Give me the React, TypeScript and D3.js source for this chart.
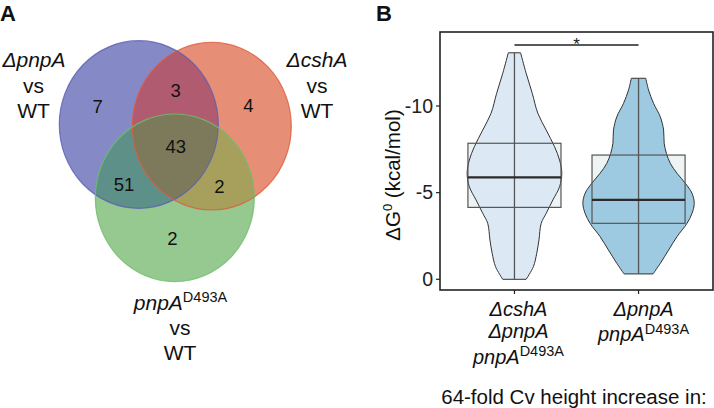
import React from "react";
import * as d3 from "d3";

// ---------- Panel A: Venn data ----------
const vennSetLabels = ["ΔpnpA", "ΔcshA", "pnpA"];
const vennRegions = ["pnpA", "cshA", "pnpA∩cshA", "all", "pnpA∩D493A", "cshA∩D493A", "D493A"];
const vennCounts = [7, 4, 3, 43, 51, 2, 2];

// ---------- Panel B: violin / box data ----------
const categories = ["ΔcshA ΔpnpA pnpA D493A", "ΔpnpA pnpA D493A"];
const yTicks = [0, -5, -10];
const violin1Values = [-13.07, -11.89, -10.73, -9.58, -8.61, -7.65, -6.88, -6.12, -5.34, -4.58, -3.81, -3.23, -2.27, -1.5, -0.73, 0];
const violin1Density = [0.11, 0.21, 0.32, 0.42, 0.57, 0.72, 0.81, 0.85, 0.81, 0.69, 0.57, 0.48, 0.44, 0.4, 0.34, 0.21];
const violin2Values = [-11.6, -10.92, -10.15, -9.38, -8.61, -7.85, -7.27, -6.69, -6.12, -5.54, -4.96, -4.38, -3.81, -3.23, -2.46, -1.69, -0.92, -0.31];
const violin2Density = [0.13, 0.18, 0.27, 0.39, 0.45, 0.46, 0.5, 0.57, 0.69, 0.84, 0.96, 1.0, 0.96, 0.87, 0.69, 0.54, 0.39, 0.26];
const boxLower = [0, -0.31];
const boxQ1 = [-4.15, -3.23];
const boxMedian = [-5.88, -4.58];
const boxQ3 = [-7.85, -7.17];
const boxUpper = [-13.07, -11.6];

const FONT = "'Liberation Sans', Arial, Helvetica, sans-serif";

function Venn() {
  const rx = 79.5, ry = 83.8;
  const blue = { cx: 138.8, cy: 124.5 };
  const red = { cx: 211.8, cy: 126.2 };
  const green = { cx: 174.8, cy: 197.8 };
  const countPos: Record<string, [number, number]> = {
    "pnpA": [97.7, 112.7],
    "cshA": [248.3, 111.7],
    "pnpA∩cshA": [175.7, 97.3],
    "all": [175.7, 152.7],
    "pnpA∩D493A": [124, 190.7],
    "cshA∩D493A": [219.3, 192.7],
    "D493A": [172.3, 245],
  };
  const E = (c: { cx: number; cy: number }, fill: string, extra: any = {}) => (
    <ellipse cx={c.cx} cy={c.cy} rx={rx} ry={ry} fill={fill} {...extra} />
  );
  return (
    <g>
      <defs>
        <clipPath id="clipBlue">{E(blue, "#000")}</clipPath>
        <clipPath id="clipRed">{E(red, "#000")}</clipPath>
      </defs>
      {E(blue, "#8589c6")}
      {E(red, "#e68e76")}
      {E(green, "#95c98f")}
      <g clipPath="url(#clipBlue)">{E(red, "#b05b6f")}</g>
      <g clipPath="url(#clipBlue)">{E(green, "#5e908a")}</g>
      <g clipPath="url(#clipRed)">{E(green, "#a6a05c")}</g>
      <g clipPath="url(#clipBlue)">
        <g clipPath="url(#clipRed)">{E(green, "#7c7a5b")}</g>
      </g>
      {E(blue, "none", { stroke: "#5a5eb4", strokeWidth: 1.2, strokeOpacity: 0.8 })}
      {E(red, "none", { stroke: "#de5a3d", strokeWidth: 1.2, strokeOpacity: 0.8 })}
      {E(green, "none", { stroke: "#6dbd6a", strokeWidth: 1.2, strokeOpacity: 0.8 })}
      {vennRegions.map((r, i) => (
        <text key={r} x={countPos[r][0]} y={countPos[r][1]} textAnchor="middle" fontSize={18.5} fontFamily={FONT} fill="#111">
          {vennCounts[i]}
        </text>
      ))}
      {/* set labels */}
      <g fontFamily={FONT} fontSize={21} fill="#111" textAnchor="middle">
        <text x={34} y={66.7} fontStyle="italic">{vennSetLabels[0]}</text>
        <text x={33.5} y={92.5}>vs</text>
        <text x={33.5} y={118.3}>WT</text>
        <text x={317} y={66.7} fontStyle="italic">{vennSetLabels[1]}</text>
        <text x={317} y={92.5}>vs</text>
        <text x={317} y={118.3}>WT</text>
        <text x={180.5} y={310}>
          <tspan fontStyle="italic">{vennSetLabels[2]}</tspan>
          <tspan fontSize={14.5} dy={-8.5}>D493A</tspan>
        </text>
        <text x={180} y={335}>vs</text>
        <text x={180} y={360}>WT</text>
      </g>
      <text x={0} y={20.7} fontFamily={FONT} fontWeight="bold" fontSize={22} fill="#111">A</text>
    </g>
  );
}

function Violins() {
  const left = 440, right = 713, top = 32, bottom = 290;
  const y = d3.scaleLinear().domain([0.617, -14.27]).range([bottom, top]);
  const x = d3.scaleLinear().domain([0.4, 2.6]).range([left, right]);
  const w = d3.scaleLinear().domain([0, 1]).range([0, 55.7]);
  const boxHalf = x(1.375) - x(1);
  const violins = [
    { vals: violin1Values, dens: violin1Density, fill: "#dce9f4" },
    { vals: violin2Values, dens: violin2Density, fill: "#9dcae1" },
  ];
  const area = (cx: number) =>
    d3
      .area<[number, number]>()
      .y((d) => y(d[0]))
      .x0((d) => cx - w(d[1]))
      .x1((d) => cx + w(d[1]))
      .curve(d3.curveCatmullRom);
  return (
    <g>
      {categories.map((c, i) => {
        const cx = x(i + 1);
        const pts = violins[i].vals.map((v, j) => [v, violins[i].dens[j]] as [number, number]);
        return (
          <g key={c}>
            <rect x={cx - boxHalf} y={y(boxQ3[i])} width={boxHalf * 2} height={y(boxQ1[i]) - y(boxQ3[i])} fill="#eef3f4" />
            <path d={area(cx)(pts) || ""} fill={violins[i].fill} stroke="#333" strokeWidth={1} />
            <line x1={cx} x2={cx} y1={y(boxLower[i])} y2={y(boxUpper[i])} stroke="#555" strokeWidth={1.3} />
            <rect x={cx - boxHalf} y={y(boxQ3[i])} width={boxHalf * 2} height={y(boxQ1[i]) - y(boxQ3[i])} fill="none" stroke="#555" strokeWidth={1.2} />
            <line x1={cx - boxHalf} x2={cx + boxHalf} y1={y(boxMedian[i])} y2={y(boxMedian[i])} stroke="#2a2a2a" strokeWidth={2.2} />
          </g>
        );
      })}
      {/* frame */}
      <rect x={left} y={top} width={right - left} height={bottom - top} fill="none" stroke="#222" strokeWidth={1.6} />
      {/* y ticks */}
      {yTicks.map((t) => (
        <g key={t}>
          <line x1={left - 4} x2={left} y1={y(t)} y2={y(t)} stroke="#222" strokeWidth={1.2} />
          <text x={433} y={y(t)} dy="0.35em" textAnchor="end" fontSize={19.5} fontFamily={FONT} fill="#222">
            {String(t)}
          </text>
        </g>
      ))}
      {/* x ticks */}
      {categories.map((c, i) => (
        <line key={c} x1={x(i + 1)} x2={x(i + 1)} y1={bottom} y2={bottom + 4} stroke="#222" strokeWidth={1.2} />
      ))}
      {/* x labels */}
      <g fontFamily={FONT} fontSize={20} fill="#111" textAnchor="middle">
        <text x={x(1) + 4} y={315.5} fontStyle="italic">ΔcshA</text>
        <text x={x(1) + 4} y={338} fontStyle="italic">ΔpnpA</text>
        <text x={x(1) + 4} y={364}>
          <tspan fontStyle="italic">pnpA</tspan>
          <tspan fontSize={14.5} dy={-8}>D493A</tspan>
        </text>
        <text x={x(2) + 5} y={315.5} fontStyle="italic">ΔpnpA</text>
        <text x={x(2) + 5} y={341}>
          <tspan fontStyle="italic">pnpA</tspan>
          <tspan fontSize={14.5} dy={-7.5}>D493A</tspan>
        </text>
      </g>
      <text x={574} y={404} textAnchor="middle" fontSize={20.5} fontFamily={FONT} fill="#111">
        64-fold Cv height increase in:
      </text>
      {/* y title */}
      <text transform={`translate(400,${(top + bottom) / 2 + 14}) rotate(-90)`} textAnchor="middle" fontSize={20.5} fontFamily={FONT} fill="#111">
        ΔG<tspan fontSize={13} dy={-8}>0</tspan>
        <tspan dy={8}> (kcal/mol)</tspan>
      </text>
      {/* significance */}
      <line x1={x(1)} x2={x(2)} y1={45} y2={45} stroke="#222" strokeWidth={1.5} />
      <text x={(x(1) + x(2)) / 2} y={50} textAnchor="middle" fontSize={17} fontFamily={FONT} fill="#222">*</text>
      <text x={376} y={20.7} fontFamily={FONT} fontWeight="bold" fontSize={22} fill="#111">B</text>
    </g>
  );
}

export default function App() {
  return (
    <svg width={714} height={408} style={{ position: "absolute", left: 0, top: 0, background: "#fff" }}>
      <rect width={714} height={408} fill="#fff" />
      <Venn />
      <Violins />
    </svg>
  );
}
